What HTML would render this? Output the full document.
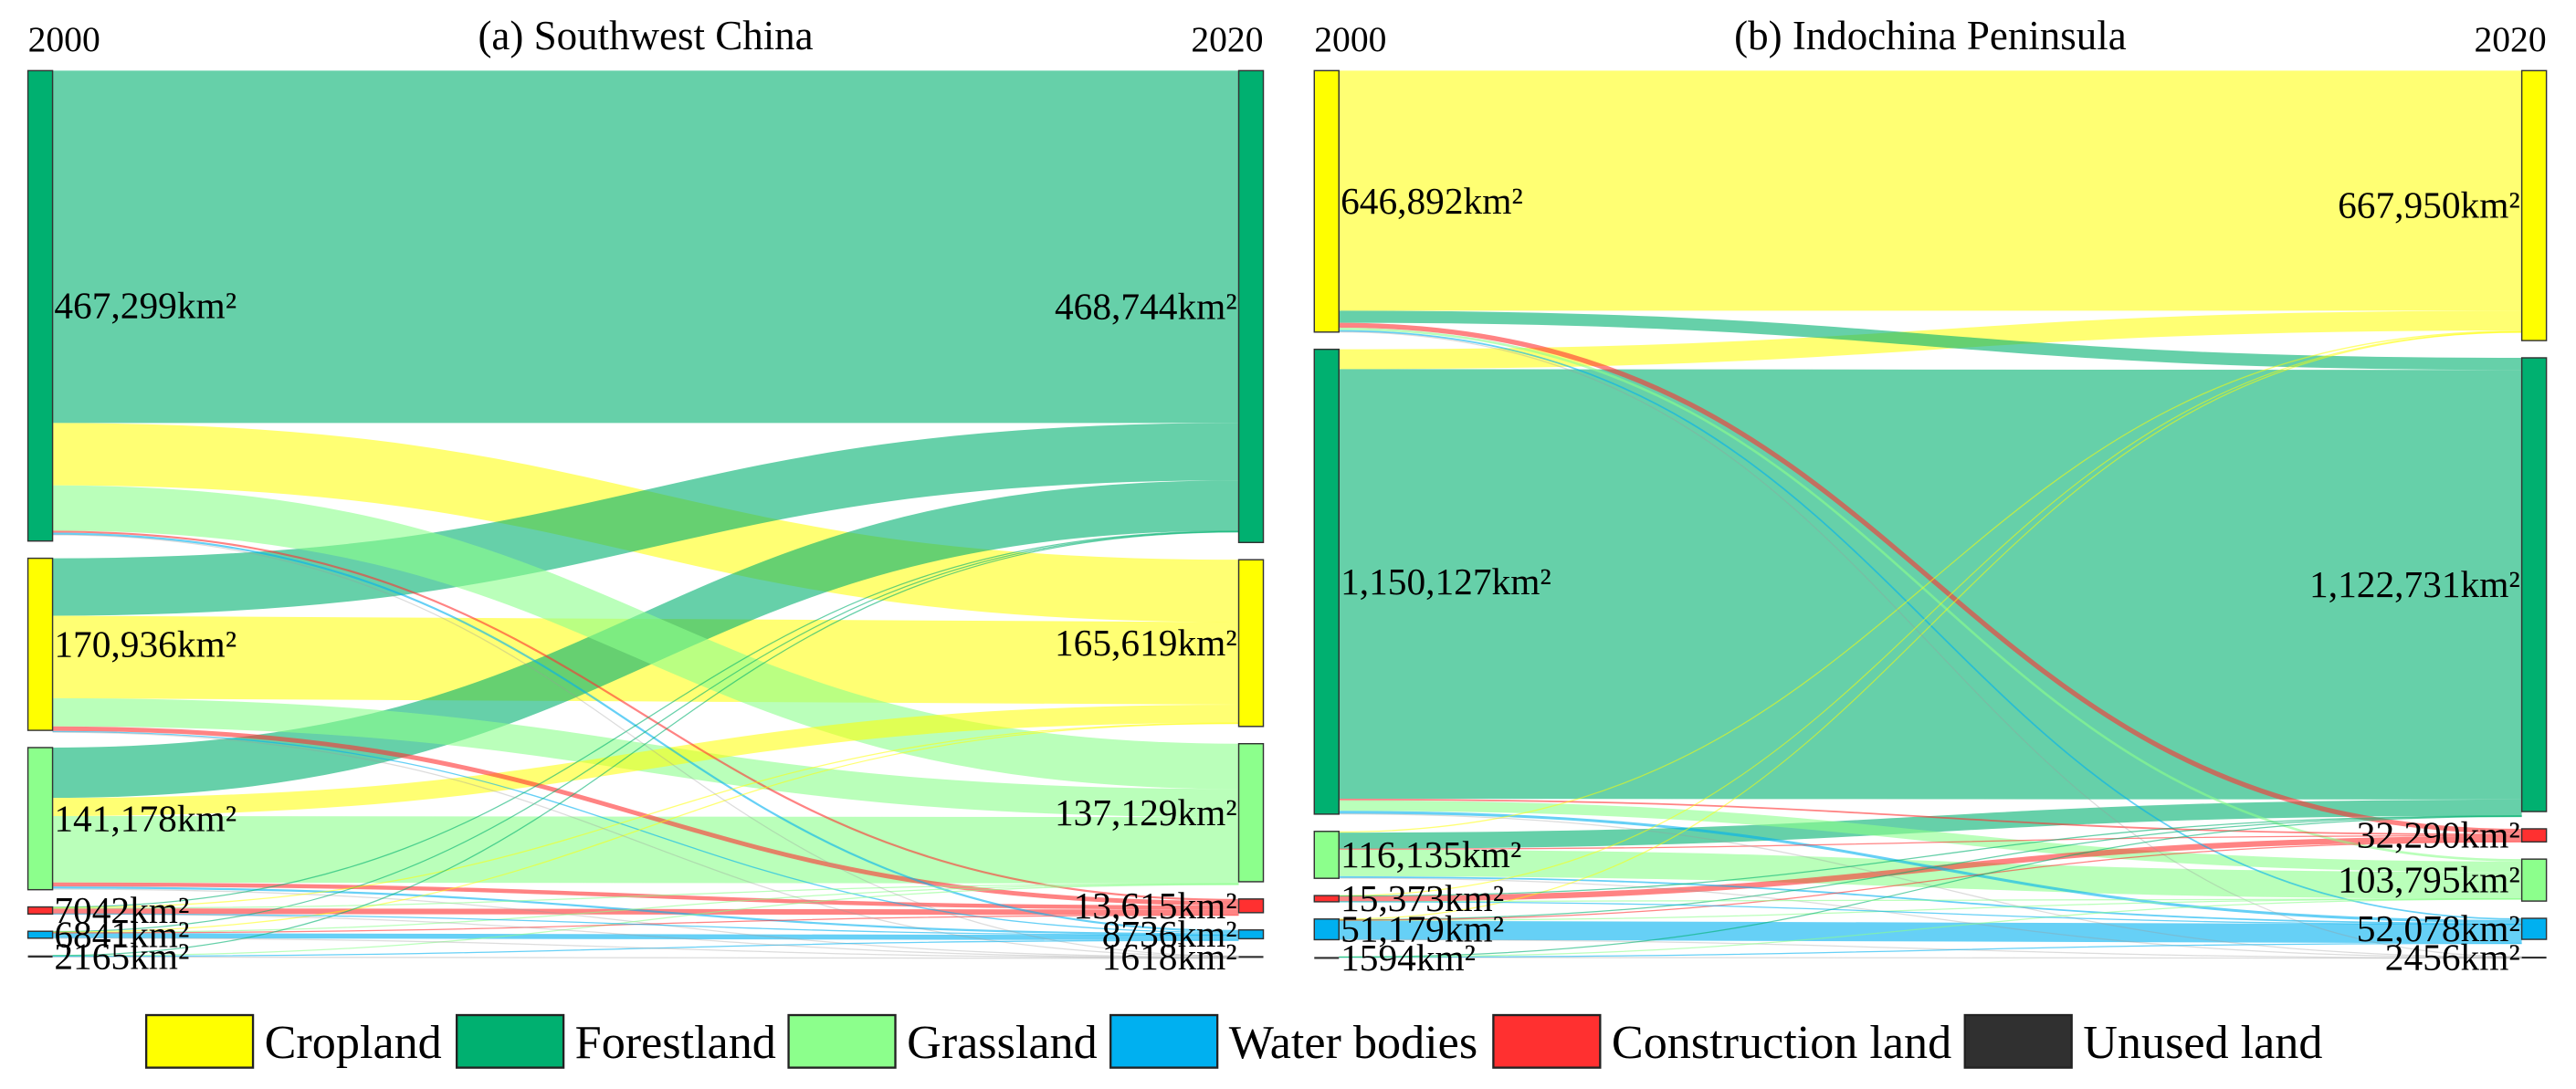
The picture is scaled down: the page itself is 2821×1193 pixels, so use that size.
<!DOCTYPE html>
<html><head><meta charset="utf-8"><title>Land use transfer Sankey</title>
<style>
html,body{margin:0;padding:0;background:#fff;}
svg{display:block;font-family:"Liberation Serif",serif;}
</style></head>
<body>
<svg id="chart" width="2821" height="1193" viewBox="0 0 1568 663" preserveAspectRatio="none" xmlns="http://www.w3.org/2000/svg">
<g id="panelA"></g>
<g id="panelB"></g>
<g id="legend"></g>
</svg>
<script>
// ---- data ----
const classes = ["Cropland","Forestland","Grassland","Water bodies","Construction land","Unused land"];
const nodeColors = ["#FFFF00","#00B070","#8CFF8C","#00B0F0","#FF3030","#303030"];
const linkColors = ["#FFFF00","#00B070","#8CFF8C","#00B0F0","#FF3030","#9a9a9a"];
const linkOpacity = [0.55,0.6,0.6,0.6,0.6,0.35];
// Panel A: Southwest China
const aTitle = "(a) Southwest China";
const aLeftOrder = [1,0,2,4,3,5];
const aRightOrder = [1,0,2,4,3,5];
const aTotals2000 = [170936,467299,141178,6841,7042,2165];
const aTotals2020 = [165619,468744,137129,8736,13615,1618];
const aLeftLabels = ["170,936km²","467,299km²","141,178km²","6841km²","7042km²","2165km²"];
const aRightLabels = ["165,619km²","468,744km²","137,129km²","8736km²","13,615km²","1618km²"];
// flows[from][to], km²
const aFromCrop   = [82000,57000,28000,1200,4500,236];
const aFromForest = [62000,350000,45000,2000,2000,299];
const aFromGrass  = [18000,50000,66000,2000,4000,1178];
const aFromWater  = [400,600,400,5000,300,141];
const aFromConstr = [500,600,300,100,5500,42];
const aFromUnused = [0,165,600,200,0,1200];
// Panel B: Indochina Peninsula
const bTitle = "(b) Indochina Peninsula";
const bLeftOrder = [0,1,2,4,3,5];
const bRightOrder = [0,1,4,2,3,5];
const bTotals2000 = [646892,1150127,116135,51179,15373,1594];
const bTotals2020 = [667950,1122731,103795,52078,32290,2456];
const bLeftLabels = ["646,892km²","1,150,127km²","116,135km²","51,179km²","15,373km²","1594km²"];
const bRightLabels = ["667,950km²","1,122,731km²","103,795km²","52,078km²","32,290km²","2456km²"];
const bFromCrop   = [594000,30000,6000,4000,12000,892];
const bFromForest = [49000,1063000,26000,7000,4000,1127];
const bFromGrass  = [3000,40000,66000,4000,2000,1135];
const bFromWater  = [1000,1500,800,47000,500,379];
const bFromConstr = [800,400,100,73,14000,0];
const bFromUnused = [0,194,200,300,0,900];

const NS = "http://www.w3.org/2000/svg";
function mk(tag, attrs, parent){
  const e = document.createElementNS(NS, tag);
  for (const k in attrs) e.setAttribute(k, attrs[k]);
  if (parent) parent.appendChild(e);
  return e;
}
const slug = s => s.toLowerCase().replace(/\s+/g,'-');

function drawPanel(g, cfg){
  const top = 43, span = 540, gap = 10.5, nw = 15;
  const flows = cfg.flows;
  const sumL = cfg.t2000.reduce((a,b)=>a+b,0), sumR = cfg.t2020.reduce((a,b)=>a+b,0);
  const scale = (span - gap*5) / Math.max(sumL, sumR);
  const xL = cfg.x0, xR = cfg.x1 - nw;
  const yL = {}, yR = {};
  let y = top;
  cfg.lo.forEach(c => { yL[c] = y; y += Math.max(cfg.t2000[c]*scale, 1.2) + gap; });
  y = top;
  cfg.ro.forEach(c => { yR[c] = y; y += Math.max(cfg.t2020[c]*scale, 1.2) + gap; });
  const tt = mk('text', {x:(cfg.x0+cfg.x1)/2, y:30, 'text-anchor':'middle', 'font-size':25}, g);
  tt.textContent = cfg.title;
  
  
  const y1 = mk('text', {x:cfg.x0, y:31, 'font-size':22}, g);
  y1.textContent = "2000";
  
  
  const y2 = mk('text', {x:cfg.x1, y:31, 'font-size':22, 'text-anchor':'end'}, g);
  y2.textContent = "2020";
  
  
  const outOff = {}, inOff = {};
  cfg.lo.forEach(c => outOff[c] = 0);
  cfg.ro.forEach(c => inOff[c] = 0);
  const lg = mk('g', {}, g);
  
  
  const links = [];
  cfg.lo.forEach(s => {
    cfg.ro.forEach(t => {
      const v = flows[s][t];
      if (!v) return;
      const w = v*scale;
      const sy = yL[s] + outOff[s] + w/2; outOff[s] += w;
      links.push({s, t, v, w, sy});
    });
  });
  cfg.ro.forEach(t => {
    cfg.lo.forEach(s => {
      const l = links.find(k => k.s===s && k.t===t);
      if (!l) return;
      l.ty = yR[t] + inOff[t] + l.w/2; inOff[t] += l.w;
    });
  });
  const xa = xL + nw, xb = xR, xm = (xa+xb)/2;
  links.sort((a,b)=>b.w-a.w).forEach(l => {
    const p = mk('path', {d:`M${xa},${l.sy} C${xm},${l.sy} ${xm},${l.ty} ${xb},${l.ty}`,
      fill:'none', stroke:linkColors[l.t], 'stroke-opacity':linkOpacity[l.t], 'stroke-width':Math.max(l.w,0.7)}, lg);
    
    
  });
  cfg.lo.forEach(c => {
    const h = Math.max(cfg.t2000[c]*scale, 1.2);
    const r = mk('rect', {x:xL, y:yL[c], width:nw, height:h, fill:nodeColors[c], stroke:'#333', 'stroke-width':h>3?0.8:0}, g);
    
    
    const t = mk('text', {x:xL+nw+1, y:yL[c]+h/2+7.5, 'font-size':23}, g);
    t.textContent = cfg.ll[c];
    
    
  });
  cfg.ro.forEach(c => {
    const h = Math.max(cfg.t2020[c]*scale, 1.2);
    const r = mk('rect', {x:xR, y:yR[c], width:nw, height:h, fill:nodeColors[c], stroke:'#333', 'stroke-width':h>3?0.8:0}, g);
    
    
    const t = mk('text', {x:xR-1, y:yR[c]+h/2+7.5, 'font-size':23, 'text-anchor':'end'}, g);
    t.textContent = cfg.rl[c];
    
    
  });
}

drawPanel(document.getElementById('panelA'), {
  x0:17, x1:769, title:aTitle, lo:aLeftOrder, ro:aRightOrder,
  t2000:aTotals2000, t2020:aTotals2020, ll:aLeftLabels, rl:aRightLabels,
  flows:[aFromCrop,aFromForest,aFromGrass,aFromWater,aFromConstr,aFromUnused]
});
drawPanel(document.getElementById('panelB'), {
  x0:800, x1:1550, title:bTitle, lo:bLeftOrder, ro:bRightOrder,
  t2000:bTotals2000, t2020:bTotals2020, ll:bLeftLabels, rl:bRightLabels,
  flows:[bFromCrop,bFromForest,bFromGrass,bFromWater,bFromConstr,bFromUnused]
});

const legendX = [89,278,480,676,909,1196];
const leg = document.getElementById('legend');
classes.forEach((c,i) => {
  const gi = mk('g', {}, leg);
  
  
  const r = mk('rect', {x:legendX[i], y:618, width:65, height:32, fill:nodeColors[i], stroke:'#222', 'stroke-width':1.3}, gi);
  
  
  const t = mk('text', {x:legendX[i]+72, y:644, 'font-size':29}, gi);
  t.textContent = c;
  
  
});
</script>
</body></html>
